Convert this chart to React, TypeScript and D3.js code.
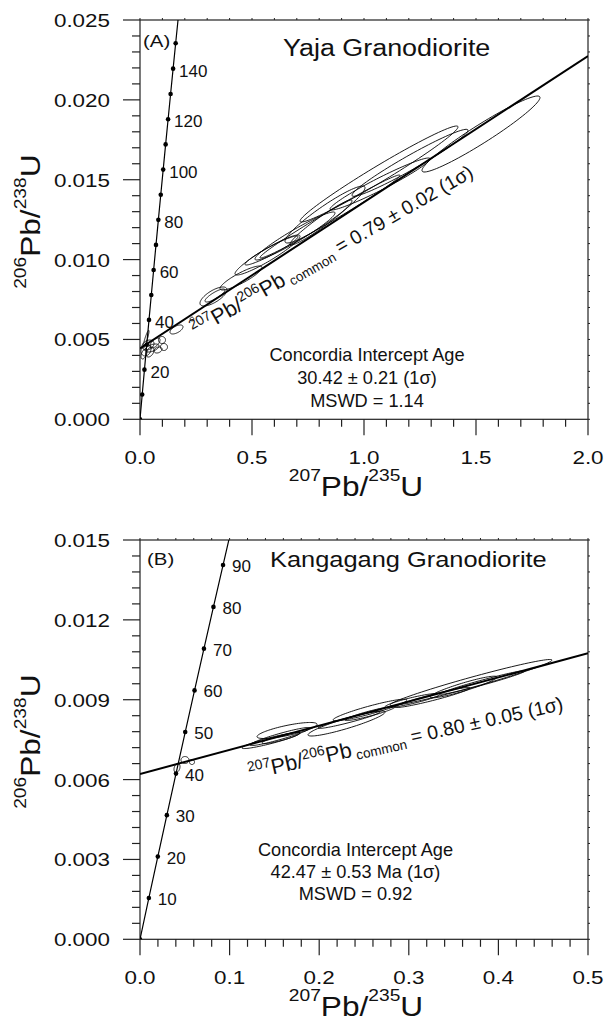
import React from "react";
import * as d3 from "d3";

const FONT = "'Liberation Sans', Arial, Helvetica, sans-serif";

// ---------- Concordia reference points (age in Ma) ----------
const concAges = [0, 10, 20, 30, 40, 50, 60, 70, 80, 90, 100, 110, 120, 130, 140, 150, 160];
const concPb207U235 = [0, 0.009897, 0.019892, 0.029986, 0.04018, 0.050475, 0.060872, 0.071371, 0.081975, 0.092683, 0.103497, 0.114419, 0.125448, 0.136585, 0.147834, 0.159193, 0.170676];
const concPb206U238 = [0, 0.0015525, 0.0031073, 0.0046646, 0.0062244, 0.0077865, 0.009351, 0.010918, 0.0124874, 0.0140592, 0.0156334, 0.0172101, 0.0187892, 0.0203708, 0.0219548, 0.0235412, 0.0251305];

// ---------- Panel A: Yaja Granodiorite ----------
const dotAgesA = [0, 10, 20, 30, 40, 50, 60, 70, 80, 90, 100, 110, 120, 130, 140, 150];
const labelAgesA = [20, 40, 60, 80, 100, 120, 140];
const xTicksA = [0, 0.5, 1.0, 1.5, 2.0];
const xTickLabelsA = ["0.0", "0.5", "1.0", "1.5", "2.0"];
const yTicksA = [0, 0.005, 0.01, 0.015, 0.02, 0.025];
const yTickLabelsA = ["0.000", "0.005", "0.010", "0.015", "0.020", "0.025"];
const discordiaXA = [0, 2.0];
const discordiaYA = [0.00444, 0.022746];
const ellXA = [1.5223, 1.067, 1.2054, 1.0714, 0.8259, 0.808, 0.692, 0.5692, 0.587, 0.4509, 0.3281, 0.3348, 0.1629, 0.0982, 0.1071, 0.2321, 0.8482, 0.0357, 0.0536, 0.0268, 0.067, 0.0268, 0.0446, 0.0804, 0.0179];
const ellSXA = [0.2634, 0.3527, 0.2589, 0.2232, 0.1786, 0.1384, 0.1786, 0.1451, 0.1183, 0.0938, 0.0603, 0.0446, 0.029, 0.0156, 0.0156, 0.008, 0.3125, 0.0268, 0.0313, 0.0223, 0.0223, 0.0134, 0.0179, 0.0179, 0.0134];
const ellYA = [0.017862, 0.015358, 0.016059, 0.014732, 0.012822, 0.012322, 0.011477, 0.010287, 0.010569, 0.008847, 0.007689, 0.007751, 0.005624, 0.004965, 0.004527, 0.00628, 0.012697, 0.00465, 0.004464, 0.004339, 0.004778, 0.005009, 0.004214, 0.004339, 0.004089];
const ellSYA = [0.002379, 0.003005, 0.002097, 0.001628, 0.001784, 0.001409, 0.001503, 0.001252, 0.000908, 0.000751, 0.000595, 0.000407, 0.000282, 0.000219, 0.000219, 0.000113, 0.002598, 0.000313, 0.00025, 0.000376, 0.000313, 0.000563, 0.000313, 0.000188, 0.000313];
const ellRhoA = [0.959, 0.981, 0.97, 0.966, 0.939, 0.962, 0.957, 0.936, 0.949, 0.877, 0.705, 0.835, 0.586, 0, 0, 0, 0.99, 0.3, 0.5, 0.2, 0.6, 0.9, 0.4, 0.3, 0.5];

// ---------- Panel B: Kangagang Granodiorite ----------
const dotAgesB = [0, 10, 20, 30, 40, 50, 60, 70, 80, 90];
const labelAgesB = [10, 20, 30, 40, 50, 60, 70, 80, 90];
const xTicksB = [0, 0.1, 0.2, 0.3, 0.4, 0.5];
const xTickLabelsB = ["0.0", "0.1", "0.2", "0.3", "0.4", "0.5"];
const yTicksB = [0, 0.003, 0.006, 0.009, 0.012, 0.015];
const yTickLabelsB = ["0.000", "0.003", "0.006", "0.009", "0.012", "0.015"];
const discordiaXB = [0, 0.5];
const discordiaYB = [0.00621, 0.010744];
const ellXB = [0.1462, 0.1641, 0.1563, 0.1574, 0.2305, 0.2567, 0.2567, 0.2333, 0.3694, 0.361, 0.3265, 0.3041, 0.3823, 0.0502, 0.058, 0.0413];
const ellSXB = [0.0324, 0.0335, 0.0335, 0.0212, 0.043, 0.0413, 0.0279, 0.0346, 0.0904, 0.0374, 0.0419, 0.0307, 0.0474, 0.00446, 0.0028, 0.00335];
const ellYB = [0.007468, 0.007844, 0.007618, 0.007562, 0.008107, 0.008614, 0.008482, 0.008238, 0.009647, 0.009478, 0.009083, 0.008971, 0.009647, 0.006735, 0.00666, 0.006435];
const ellSYB = [0.000303, 0.000301, 0.000338, 0.00021, 0.00047, 0.000406, 0.000263, 0.000316, 0.000864, 0.000406, 0.000376, 0.000267, 0.000443, 0.000131, 0.000094, 0.000169];
const ellRhoB = [0.923, 0.769, 0.938, 0.887, 0.909, 0.924, 0.93, 0.951, 0.974, 0.922, 0.951, 0.9, 0.976, 0, 0, 0.3];

type Panel = {
  id: string;
  left: number; right: number; top: number; bottom: number;
  xMax: number; yMax: number;
  xTicks: number[]; xTickLabels: string[]; yTicks: number[]; yTickLabels: string[];
  xMinorStep: number; yMinorStep: number;
  dotAges: number[]; labelAges: number[]; labelDx: number; labelDy: number;
  discX: number[]; discY: number[];
  ell: { x: number[]; sx: number[]; y: number[]; sy: number[]; rho: number[] };
  tag: string; tagX: number; tagY: number;
  title: string; titleX: number; titleY: number; titleSize: number;
  ann: { x: number; y: number; angle: number; rest: string };
  block: { cx: number; y: number[]; lines: string[] };
};

const panels: Panel[] = [
  {
    id: "A", left: 140, right: 588, top: 20, bottom: 419.3, xMax: 2.0, yMax: 0.025,
    xTicks: xTicksA, xTickLabels: xTickLabelsA, yTicks: yTicksA, yTickLabels: yTickLabelsA,
    xMinorStep: 0.1, yMinorStep: 0.001,
    dotAges: dotAgesA, labelAges: labelAgesA, labelDx: 6, labelDy: 8,
    discX: discordiaXA, discY: discordiaYA,
    ell: { x: ellXA, sx: ellSXA, y: ellYA, sy: ellSYA, rho: ellRhoA },
    tag: "(A)", tagX: 143, tagY: 47,
    title: "Yaja Granodiorite", titleX: 283, titleY: 56, titleSize: 23.3,
    ann: { x: 196, y: 337, angle: -30, rest: " = 0.79 \u00B1 0.02 (1\u03C3)" },
    block: { cx: 367, y: [361, 384, 406.7], lines: ["Concordia Intercept Age", "30.42 \u00B1 0.21 (1\u03C3)", "MSWD = 1.14"] },
  },
  {
    id: "B", left: 140, right: 588, top: 540, bottom: 939.3, xMax: 0.5, yMax: 0.015,
    xTicks: xTicksB, xTickLabels: xTickLabelsB, yTicks: yTicksB, yTickLabels: yTickLabelsB,
    xMinorStep: 0.02, yMinorStep: 0.0006,
    dotAges: dotAgesB, labelAges: labelAgesB, labelDx: 9, labelDy: 7,
    discX: discordiaXB, discY: discordiaYB,
    ell: { x: ellXB, sx: ellSXB, y: ellYB, sy: ellSYB, rho: ellRhoB },
    tag: "(B)", tagX: 147, tagY: 565,
    title: "Kangagang Granodiorite", titleX: 270, titleY: 566.5, titleSize: 22,
    ann: { x: 250, y: 779.5, angle: -12.5, rest: " = 0.80 \u00B1 0.05 (1\u03C3)" },
    block: { cx: 355.5, y: [856, 878, 900], lines: ["Concordia Intercept Age", "42.47 \u00B1 0.53 Ma (1\u03C3)", "MSWD = 0.92"] },
  },
];

function ellipsePts(cx: number, sx: number, cy: number, sy: number, rho: number): [number, number][] {
  const k = Math.sqrt(Math.max(0, 1 - rho * rho));
  return d3.range(0, 97).map((i) => {
    const t = (2 * Math.PI * i) / 96;
    return [cx + sx * Math.cos(t), cy + sy * (rho * Math.cos(t) + k * Math.sin(t))];
  });
}

function PanelView({ p }: { p: Panel }) {
  const xs = d3.scaleLinear().domain([0, p.xMax]).range([p.left, p.right]);
  const ys = d3.scaleLinear().domain([0, p.yMax]).range([p.bottom, p.top]);
  const line = d3.line<[number, number]>().x((d) => xs(d[0])).y((d) => ys(d[1]));
  const xMinor = d3.range(0, p.xMax + p.xMinorStep / 2, p.xMinorStep);
  const yMinor = d3.range(0, p.yMax + p.yMinorStep / 2, p.yMinorStep);
  const concPts: [number, number][] = concAges.map((a, i) => [concPb207U235[i], concPb206U238[i]]);
  const ageIdx = (a: number) => concAges.indexOf(a);
  const clipId = "clip" + p.id;
  const axisColor = "#222";
  const isMajorX = (v: number) => p.xTicks.some((t) => Math.abs(t - v) < 1e-9);
  const isMajorY = (v: number) => p.yTicks.some((t) => Math.abs(t - v) < 1e-9);
  const cy = (p.top + p.bottom) / 2;

  return (
    <g>
      <defs>
        <clipPath id={clipId}>
          <rect x={p.left} y={p.top} width={p.right - p.left} height={p.bottom - p.top} />
        </clipPath>
      </defs>
      {/* frame */}
      <rect x={p.left} y={p.top} width={p.right - p.left} height={p.bottom - p.top} fill="none" stroke={axisColor} strokeWidth={1.2} />
      {/* bottom ticks */}
      {xMinor.map((v, i) => (
        <line key={"bx" + i} x1={xs(v)} x2={xs(v)} y1={p.bottom} y2={p.bottom + (isMajorX(v) ? 16 : 7.5)} stroke={axisColor} strokeWidth={1.2} />
      ))}
      {/* top ticks */}
      {xMinor.map((v, i) => (
        <line key={"tx" + i} x1={xs(v)} x2={xs(v)} y1={p.top} y2={p.top - 2} stroke={axisColor} strokeWidth={1} />
      ))}
      {/* left ticks */}
      {yMinor.map((v, i) => (
        <line key={"ly" + i} x1={p.left} x2={p.left - (isMajorY(v) ? 17 : 8)} y1={ys(v)} y2={ys(v)} stroke={axisColor} strokeWidth={1.2} />
      ))}
      {/* right ticks */}
      {yMinor.map((v, i) => (
        <line key={"ry" + i} x1={p.right} x2={p.right + 2} y1={ys(v)} y2={ys(v)} stroke={axisColor} strokeWidth={1} />
      ))}
      {/* tick labels */}
      {p.xTicks.map((v, i) => (
        <text key={"xl" + i} transform={`translate(${xs(v)},${p.bottom + 44.5}) scale(1.18,1)`} textAnchor="middle" fontSize={19} fill="#111">
          {p.xTickLabels[i]}
        </text>
      ))}
      {p.yTicks.map((v, i) => (
        <text key={"yl" + i} transform={`translate(110,${ys(v) + 7}) scale(1.18,1)`} textAnchor="end" fontSize={19} fill="#111">
          {p.yTickLabels[i]}
        </text>
      ))}
      {/* axis titles */}
      <text transform={`translate(356,${p.bottom + 77}) scale(1.13,1)`} textAnchor="middle" fontSize={28} fill="#111">
        <tspan fontSize={17} dy={-15}>207</tspan>
        <tspan dy={15}>Pb/</tspan>
        <tspan fontSize={17} dy={-15}>235</tspan>
        <tspan dy={15}>U</tspan>
      </text>
      <text transform={`translate(40,${cy + 2}) rotate(-90) scale(1.13,1)`} textAnchor="middle" fontSize={28} fill="#111">
        <tspan fontSize={17} dy={-14}>206</tspan>
        <tspan dy={14}>Pb/</tspan>
        <tspan fontSize={17} dy={-14}>238</tspan>
        <tspan dy={14}>U</tspan>
      </text>

      <g clipPath={`url(#${clipId})`}>
        {/* ellipses */}
        {p.ell.x.map((_, i) => (
          <path key={"e" + i} d={line(ellipsePts(p.ell.x[i], p.ell.sx[i], p.ell.y[i], p.ell.sy[i], p.ell.rho[i])) || ""} fill="none" stroke="#000" strokeWidth={0.9} />
        ))}
        {/* discordia */}
        <path d={line(p.discX.map((x, i) => [x, p.discY[i]] as [number, number])) || ""} fill="none" stroke="#000" strokeWidth={2} />
        {/* concordia */}
        <path d={line(concPts) || ""} fill="none" stroke="#000" strokeWidth={1.2} />
        {p.dotAges.map((a) => (
          <circle key={"d" + a} cx={xs(concPb207U235[ageIdx(a)])} cy={ys(concPb206U238[ageIdx(a)])} r={2.3} fill="#000" />
        ))}
      </g>
      {p.labelAges.map((a) => (
        <text key={"la" + a} x={xs(concPb207U235[ageIdx(a)]) + p.labelDx} y={ys(concPb206U238[ageIdx(a)]) + p.labelDy} fontSize={17} fill="#111">
          {a}
        </text>
      ))}

      {/* tag and title */}
      <text transform={`translate(${p.tagX},${p.tagY}) scale(1.2,1)`} fontSize={17} fill="#111">{p.tag}</text>
      <text transform={`translate(${p.titleX},${p.titleY}) scale(1.155,1)`} fontSize={p.titleSize} fill="#111">{p.title}</text>

      {/* rotated annotation */}
      <text transform={`translate(${p.ann.x},${p.ann.y}) rotate(${p.ann.angle})`} fontSize={19.5} fill="#111">
        <tspan fontSize={14} dy={-8}>207</tspan>
        <tspan fontSize={21.5} dy={8}>Pb/</tspan>
        <tspan fontSize={14} dy={-8}>206</tspan>
        <tspan fontSize={21.5} dy={8}>Pb</tspan>
        <tspan fontSize={13.5} dy={4}>{" common"}</tspan>
        <tspan dy={-4}>{p.ann.rest}</tspan>
      </text>

      {/* intercept block */}
      {p.block.lines.map((s, i) => (
        <text key={"bl" + i} x={p.block.cx} y={p.block.y[i]} textAnchor="middle" fontSize={18.2} fill="#111">{s}</text>
      ))}
    </g>
  );
}

export default function App() {
  return (
    <svg width={605} height={1022} style={{ position: "absolute", left: 0, top: 0, background: "#fff" }} fontFamily={FONT}>
      <rect x={0} y={0} width={605} height={1022} fill="#fff" />
      {panels.map((p) => (
        <PanelView key={p.id} p={p} />
      ))}
    </svg>
  );
}
